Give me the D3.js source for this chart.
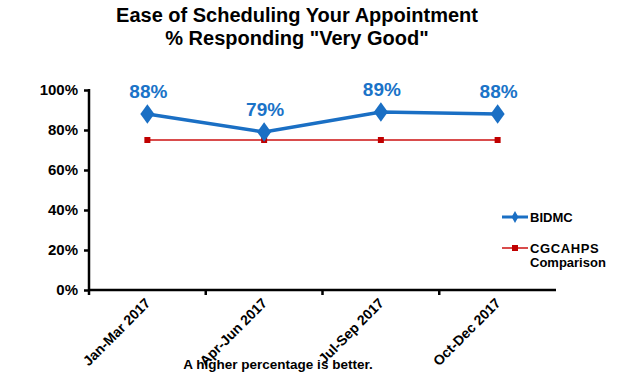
<!DOCTYPE html>
<html>
<head>
<meta charset="utf-8">
<script src="https://cdn.jsdelivr.net/npm/d3@7"></script>
<style>
  body { margin: 0; background: #fff; }
  text { font-family: "Liberation Sans", Arial, sans-serif; font-weight: bold; }
</style>
</head>
<body>
<svg width="620" height="374"></svg>
<script>
// Data
var periods = ["Jan-Mar 2017", "Apr-Jun 2017", "Jul-Sep 2017", "Oct-Dec 2017"];
var bidmc = [88, 79, 89, 88];
var comparison = [75, 75, 75, 75];
var yTicks = [0, 20, 40, 60, 80, 100];

var svg = d3.select("svg");

var x = d3.scaleBand()
  .domain(periods)
  .range([89, 556]);

var y = d3.scaleLinear()
  .domain([0, 100])
  .range([290, 90]);

// Title
svg.append("text")
  .attr("x", 297).attr("y", 22)
  .attr("text-anchor", "middle")
  .style("font-size", "20px")
  .text("Ease of Scheduling Your Appointment");
svg.append("text")
  .attr("x", 297).attr("y", 45)
  .attr("text-anchor", "middle")
  .style("font-size", "20px")
  .text("% Responding \"Very Good\"");

// Y axis
var yAxis = svg.append("g")
  .attr("transform", "translate(89,0)")
  .call(d3.axisLeft(y).tickValues(yTicks).tickSize(5).tickPadding(6)
    .tickFormat(function(d) { return d + "%"; }));
yAxis.select(".domain").attr("stroke", "#000").attr("stroke-width", 2.5)
  .attr("d", "M0,89V291");
yAxis.selectAll(".tick line").attr("stroke-width", 2.5);
yAxis.selectAll("text").style("font-size", "15px").attr("fill", "#000");

// X axis
var xAxis = svg.append("g")
  .attr("transform", "translate(0,290)")
  .call(d3.axisBottom(x).tickSize(0).tickFormat(""));
xAxis.select(".domain").attr("stroke", "#000").attr("stroke-width", 2.5)
  .attr("d", "M89,0H556");

// tick marks between categories
svg.append("g")
  .selectAll("line")
  .data(periods)
  .enter()
  .append("line")
    .attr("x1", function(d) { return x(d); })
    .attr("x2", function(d) { return x(d); })
    .attr("y1", 290).attr("y2", 295)
    .attr("stroke", "#000").attr("stroke-width", 2.5);

// rotated category labels
svg.append("g")
  .selectAll("text")
  .data(periods)
  .enter()
  .append("text")
    .attr("text-anchor", "end")
    .style("font-size", "14px")
    .attr("transform", function(d) {
      return "translate(" + (x(d) + x.bandwidth() / 2 + 4) + ",304) rotate(-45)";
    })
    .text(function(d) { return d; });

// Comparison line
var line = d3.line()
  .x(function(d, i) { return x(periods[i]) + x.bandwidth() / 2; })
  .y(function(d) { return y(d); });

svg.append("path")
  .datum(comparison)
  .attr("d", line)
  .attr("fill", "none")
  .attr("stroke", "#cc1111")
  .attr("stroke-width", 1.5);

svg.append("g")
  .selectAll("rect")
  .data(comparison)
  .enter()
  .append("rect")
    .attr("x", function(d, i) { return x(periods[i]) + x.bandwidth() / 2 - 3; })
    .attr("y", function(d) { return y(d) - 3; })
    .attr("width", 6).attr("height", 6)
    .attr("fill", "#c00000");

// BIDMC line
svg.append("path")
  .datum(bidmc)
  .attr("d", line)
  .attr("fill", "none")
  .attr("stroke", "#1a6fc4")
  .attr("stroke-width", 3.5);

var diamond = d3.symbol().type(d3.symbolDiamond).size(110);
svg.append("g")
  .selectAll("path")
  .data(bidmc)
  .enter()
  .append("path")
    .attr("d", diamond)
    .attr("transform", function(d, i) {
      return "translate(" + (x(periods[i]) + x.bandwidth() / 2) + "," + y(d) + ") scale(1.25,1)";
    })
    .attr("fill", "#1a6fc4");

// data labels
svg.append("g")
  .selectAll("text")
  .data(bidmc)
  .enter()
  .append("text")
    .attr("x", function(d, i) { return x(periods[i]) + x.bandwidth() / 2 + 1; })
    .attr("y", function(d) { return y(d) - 16; })
    .attr("text-anchor", "middle")
    .attr("fill", "#1a73c8")
    .style("font-size", "19px")
    .text(function(d) { return d + "%"; });

// Legend
var legend = svg.append("g");
legend.append("line")
  .attr("x1", 502).attr("x2", 528).attr("y1", 217).attr("y2", 217)
  .attr("stroke", "#1a6fc4").attr("stroke-width", 3);
legend.append("path")
  .attr("d", d3.symbol().type(d3.symbolDiamond).size(40))
  .attr("transform", "translate(515,217)")
  .attr("fill", "#1a6fc4");
legend.append("text")
  .attr("x", 530).attr("y", 222)
  .style("font-size", "13px")
  .text("BIDMC");

legend.append("line")
  .attr("x1", 502).attr("x2", 528).attr("y1", 248).attr("y2", 248)
  .attr("stroke", "#cc1111").attr("stroke-width", 1.5);
legend.append("rect")
  .attr("x", 512).attr("y", 245).attr("width", 6).attr("height", 6)
  .attr("fill", "#c00000");
legend.append("text")
  .attr("x", 530).attr("y", 253)
  .style("font-size", "13px")
  .style("letter-spacing", "0.6px")
  .text("CGCAHPS");
legend.append("text")
  .attr("x", 530).attr("y", 267)
  .style("font-size", "13px")
  .text("Comparison");

// Footnote
svg.append("text")
  .attr("x", 278).attr("y", 369)
  .attr("text-anchor", "middle")
  .style("font-size", "13.5px")
  .text("A higher percentage is better.");
</script>
</body>
</html>
